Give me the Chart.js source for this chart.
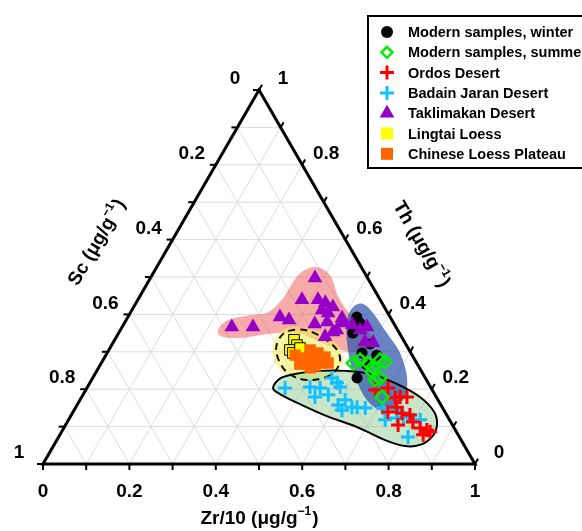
<!DOCTYPE html>
<html><head><meta charset="utf-8">
<script src="https://cdn.jsdelivr.net/npm/chart.js@4"></script>
<style>html,body{margin:0;padding:0;background:#fff;}#wrap{width:582px;height:531px;}</style>
</head><body><div id="wrap"><canvas id="c" width="582" height="531"></canvas></div>
<script>
// Ternary data as [Zr/10, Th] fractions; Sc = 1 - Zr/10 - Th
const winter = [[0.530,0.393],[0.542,0.350],[0.597,0.321],[0.627,0.291],[0.590,0.297],[0.614,0.267],[0.612,0.230],[0.545,0.377]];
const summer = [[0.583,0.270],[0.595,0.278],[0.617,0.270],[0.634,0.259],[0.641,0.278],[0.655,0.273],[0.656,0.225],[0.665,0.230],[0.695,0.179],[0.639,0.246]];
const ordos = [[0.670,0.198],[0.697,0.203],[0.727,0.177],[0.737,0.179],[0.753,0.179],[0.743,0.152],[0.729,0.139],[0.763,0.136],[0.784,0.131],[0.770,0.104],[0.800,0.112],[0.825,0.096],[0.843,0.091],[0.841,0.078],[0.853,0.086]];
const badain = [[0.459,0.203],[0.515,0.206],[0.540,0.179],[0.554,0.230],[0.572,0.217],[0.568,0.185],[0.604,0.158],[0.620,0.144],[0.651,0.152],[0.671,0.150],[0.712,0.150],[0.733,0.118],[0.747,0.144],[0.771,0.126],[0.809,0.072],[0.798,0.118],[0.585,0.206],[0.614,0.171],[0.639,0.152],[0.540,0.203],[0.758,0.123],[0.814,0.118]];
const taklimakan = [[0.381,0.497],[0.380,0.439],[0.417,0.439],[0.438,0.431],[0.461,0.420],[0.440,0.412],[0.458,0.404],[0.352,0.393],[0.377,0.385],[0.254,0.366],[0.303,0.366],[0.442,0.374],[0.468,0.380],[0.501,0.358],[0.483,0.340],[0.506,0.377],[0.530,0.372],[0.555,0.358],[0.567,0.366],[0.582,0.326],[0.495,0.353],[0.602,0.324],[0.497,0.390]];
const lingtai = [[0.415,0.332],[0.429,0.318],[0.419,0.305],[0.430,0.297],[0.440,0.310]];
const loess = [[0.438,0.291],[0.458,0.283],[0.466,0.305],[0.475,0.286],[0.495,0.278],[0.510,0.286],[0.525,0.270],[0.490,0.257],[0.477,0.267],[0.511,0.270],[0.488,0.297],[0.461,0.267],[0.499,0.262]];

// Envelope outlines (ternary [Zr/10, Th])
const pinkRegion = [[0.226,0.358],[0.236,0.385],[0.280,0.398],[0.318,0.406],[0.334,0.444],[0.338,0.505],[0.366,0.527],[0.412,0.505],[0.460,0.447],[0.510,0.401],[0.566,0.364],[0.603,0.318],[0.579,0.300],[0.535,0.305],[0.478,0.326],[0.421,0.348],[0.373,0.350],[0.334,0.345],[0.288,0.337],[0.245,0.340]];
const yellowRegion = [[0.373,0.318],[0.372,0.353],[0.393,0.366],[0.438,0.361],[0.490,0.340],[0.532,0.310],[0.558,0.273],[0.557,0.238],[0.527,0.219],[0.478,0.225],[0.430,0.246],[0.396,0.278]];
const dashedRegion = [[0.387,0.305],[0.380,0.342],[0.397,0.358],[0.436,0.356],[0.486,0.334],[0.528,0.305],[0.551,0.273],[0.549,0.241],[0.517,0.225],[0.473,0.230],[0.427,0.257]];
const blueRegion = [[0.508,0.420],[0.527,0.428],[0.562,0.404],[0.621,0.350],[0.678,0.297],[0.726,0.233],[0.748,0.179],[0.734,0.152],[0.708,0.144],[0.664,0.171],[0.619,0.217],[0.582,0.262],[0.542,0.324],[0.511,0.385]];
const greenRegion = [[0.431,0.203],[0.436,0.230],[0.473,0.243],[0.517,0.249],[0.575,0.249],[0.637,0.241],[0.712,0.214],[0.783,0.179],[0.836,0.139],[0.860,0.104],[0.864,0.072],[0.847,0.051],[0.814,0.048],[0.760,0.064],[0.677,0.099],[0.593,0.128],[0.515,0.160],[0.459,0.185]];

const tickValues = [0,0.1,0.2,0.3,0.4,0.5,0.6,0.7,0.8,0.9,1];
const tickLabels = ['0','0.2','0.4','0.6','0.8','1'];
const labelValues = [0,0.2,0.4,0.6,0.8,1];
const seriesNames = ['Modern samples, winter','Modern samples, summer','Ordos Desert','Badain Jaran Desert','Taklimakan Desert','Lingtai Loess','Chinese Loess Plateau'];

const S3 = Math.sqrt(3)/2;
const toXY = p => ({x: p[0] + p[1]/2, y: p[1]*S3});
const FONT = '"Liberation Sans", Arial, Helvetica, sans-serif';

function P(chart, zr, th){
  return [chart.scales.x.getPixelForValue(zr + th/2), chart.scales.y.getPixelForValue(th*S3)];
}
function closedCurve(ctx, pts){
  const n = pts.length;
  ctx.beginPath();
  ctx.moveTo(pts[0][0], pts[0][1]);
  for (let i=0;i<n;i++){
    const p0=pts[(i-1+n)%n], p1=pts[i], p2=pts[(i+1)%n], p3=pts[(i+2)%n];
    ctx.bezierCurveTo(p1[0]+(p2[0]-p0[0])/6, p1[1]+(p2[1]-p0[1])/6,
                      p2[0]-(p3[0]-p1[0])/6, p2[1]-(p3[1]-p1[1])/6, p2[0], p2[1]);
  }
  ctx.closePath();
}
function regionPath(chart, region){
  closedCurve(chart.ctx, region.map(p => P(chart, p[0], p[1])));
}
function drawTitle(ctx, x, y, rot, main, sup, tail, size){
  ctx.save(); ctx.translate(x,y); ctx.rotate(rot);
  const f = `bold ${size}px ${FONT}`, fs = `bold ${Math.round(size*0.62)}px ${FONT}`;
  ctx.font=f; const w1=ctx.measureText(main).width, w3=ctx.measureText(tail).width;
  ctx.font=fs; const w2=ctx.measureText(sup).width;
  let cx = -(w1+w2+w3)/2;
  ctx.textBaseline='middle'; ctx.textAlign='left'; ctx.fillStyle='#000';
  ctx.font=f; ctx.fillText(main,cx,0); cx+=w1;
  ctx.font=fs; ctx.fillText(sup,cx,-size*0.36); cx+=w2+1;
  ctx.font=f; ctx.fillText(tail,cx,0);
  ctx.restore();
}
function marker(ctx, style, x, y){
  ctx.save();
  ctx.fillStyle = style.bg; ctx.strokeStyle = style.bc; ctx.lineWidth = style.bw;
  const r = style.r;
  ctx.beginPath();
  if (style.ps === 'circle'){ ctx.arc(x,y,r,0,Math.PI*2); ctx.fill(); }
  else if (style.ps === 'rectRot'){ ctx.moveTo(x,y-r); ctx.lineTo(x+r,y); ctx.lineTo(x,y+r); ctx.lineTo(x-r,y); ctx.closePath(); if(style.bg!=='transparent')ctx.fill(); ctx.stroke(); }
  else if (style.ps === 'cross'){ ctx.moveTo(x-r,y); ctx.lineTo(x+r,y); ctx.moveTo(x,y-r); ctx.lineTo(x,y+r); ctx.stroke(); }
  else if (style.ps === 'triangle'){ ctx.moveTo(x,y-r); ctx.lineTo(x+r*0.866,y+r*0.5); ctx.lineTo(x-r*0.866,y+r*0.5); ctx.closePath(); ctx.fill(); }
  else if (style.ps === 'rect'){ const h=r*0.7071; ctx.rect(x-h,y-h,2*h,2*h); ctx.fill(); if(style.bw>0) ctx.stroke(); }
  ctx.restore();
}

const styles = [
  {ps:'circle', r:5.5, bg:'#000000', bc:'#000000', bw:0, order:6, lr:6},
  {ps:'rectRot', r:6.5, bg:'transparent', bc:'#00ee00', bw:2.5, order:1, lr:5.5},
  {ps:'cross', r:7, bg:'#ff0000', bc:'#ff0000', bw:3, order:2, lr:7},
  {ps:'cross', r:7, bg:'#10c0ff', bc:'#10c0ff', bw:3, order:3, lr:7},
  {ps:'triangle', r:8.5, bg:'#9400c8', bc:'#9400c8', bw:0, order:0, lr:8.5},
  {ps:'rect', r:7.5, bg:'#ffff00', bc:'#000000', bw:1, order:5, lr:8.5},
  {ps:'rect', r:8, bg:'#ff6600', bc:'#ff6600', bw:0, order:4, lr:8.5}
];
const seriesData = [winter, summer, ordos, badain, taklimakan, lingtai, loess];

const ternaryPlugin = {
  id: 'ternary',
  beforeDatasetsDraw(chart){
    const ctx = chart.ctx;
    ctx.save();
    ctx.strokeStyle = '#dcdcdc'; ctx.lineWidth = 1;
    for (let i=1;i<10;i++){
      const k=i/10;
      const segs = [[[0,k],[1-k,k]],[[k,0],[k,1-k]],[[1-k,0],[0,1-k]]];
      segs.forEach(s => { const a=P(chart,s[0][0],s[0][1]), b=P(chart,s[1][0],s[1][1]);
        ctx.beginPath(); ctx.moveTo(a[0],a[1]); ctx.lineTo(b[0],b[1]); ctx.stroke(); });
    }
    regionPath(chart, pinkRegion); ctx.fillStyle='rgba(238,85,85,0.5)'; ctx.fill();
    regionPath(chart, yellowRegion); ctx.fillStyle='rgba(245,240,90,0.55)'; ctx.fill();
    regionPath(chart, greenRegion); ctx.fillStyle='rgba(150,205,150,0.5)'; ctx.fill();
    regionPath(chart, blueRegion); ctx.fillStyle='rgba(40,80,170,0.7)'; ctx.fill();
    regionPath(chart, greenRegion); ctx.strokeStyle='#000'; ctx.lineWidth=2; ctx.stroke();
    regionPath(chart, dashedRegion); ctx.setLineDash([7,5]); ctx.strokeStyle='#111'; ctx.lineWidth=2; ctx.stroke();
    ctx.setLineDash([]);
    ctx.restore();
  },
  afterDraw(chart){
    const ctx = chart.ctx;
    ctx.save();
    const A=P(chart,0,1), L=P(chart,0,0), R=P(chart,1,0);
    ctx.strokeStyle='#000'; ctx.lineWidth=2;
    tickValues.forEach(k => {
      const b=P(chart,k,0); ctx.beginPath(); ctx.moveTo(b[0],b[1]); ctx.lineTo(b[0],b[1]+6); ctx.stroke();
      const l=P(chart,0,1-k); ctx.beginPath(); ctx.moveTo(l[0],l[1]); ctx.lineTo(l[0]-6,l[1]); ctx.stroke();
      const r=P(chart,1-k,k); ctx.beginPath(); ctx.moveTo(r[0],r[1]); ctx.lineTo(r[0]+3,r[1]-5.2); ctx.stroke();
    });
    ctx.lineWidth=3; ctx.lineJoin='miter';
    ctx.beginPath(); ctx.moveTo(A[0],A[1]); ctx.lineTo(L[0],L[1]); ctx.lineTo(R[0],R[1]); ctx.closePath(); ctx.stroke();
    ctx.fillStyle='#000'; ctx.font=`bold 19px ${FONT}`; ctx.textAlign='center'; ctx.textBaseline='middle';
    labelValues.forEach((k,i) => {
      const b=P(chart,k,0); ctx.fillText(tickLabels[i], b[0], b[1]+28);
      const l=P(chart,0,1-k); ctx.fillText(tickLabels[i], l[0]-24, l[1]-11);
      const r=P(chart,1-k,k); ctx.fillText(tickLabels[i], r[0]+24, r[1]-11);
    });
    drawTitle(ctx, (L[0]+R[0])/2, L[1]+55, 0, 'Zr/10 (\u03BCg/g', '\u22121', ')', 19);
    drawTitle(ctx, 97, 243, -Math.PI/3, 'Sc (\u03BCg/g', '\u22121', ')', 19);
    drawTitle(ctx, 421, 244, Math.PI/3, 'Th (\u03BCg/g', '\u22121', ')', 19);
    ctx.lineWidth=2; ctx.strokeStyle='#000'; ctx.fillStyle='#fff';
    ctx.fillRect(368,16,260,152); ctx.strokeRect(368,16,260,152);
    ctx.font=`bold 14.5px ${FONT}`; ctx.textAlign='left'; ctx.textBaseline='middle';
    seriesNames.forEach((name,i) => {
      const y = 32 + i*20.3;
      const st = Object.assign({}, styles[i], {r: styles[i].lr});
      if (i===5) st.bw = 0;
      marker(ctx, st, 387, y);
      ctx.fillStyle='#000'; ctx.fillText(name, 408, y+1);
    });
    ctx.restore();
  }
};

new Chart(document.getElementById('c'), {
  type: 'scatter',
  data: {
    datasets: seriesData.map((d,i) => ({
      label: seriesNames[i],
      data: d.map(toXY),
      pointStyle: styles[i].ps,
      pointRadius: styles[i].r,
      pointHoverRadius: styles[i].r,
      pointBackgroundColor: styles[i].bg,
      pointBorderColor: styles[i].bc,
      pointBorderWidth: styles[i].bw,
      order: styles[i].order,
      clip: false
    }))
  },
  options: {
    responsive: false,
    animation: false,
    events: [],
    layout: {padding: {left:43, right:107, top:90, bottom:67}},
    scales: {
      x: {type:'linear', min:0, max:1, display:false},
      y: {type:'linear', min:0, max:S3, display:false}
    },
    plugins: {legend:{display:false}, tooltip:{enabled:false}}
  },
  plugins: [ternaryPlugin]
});
</script>
</body></html>
